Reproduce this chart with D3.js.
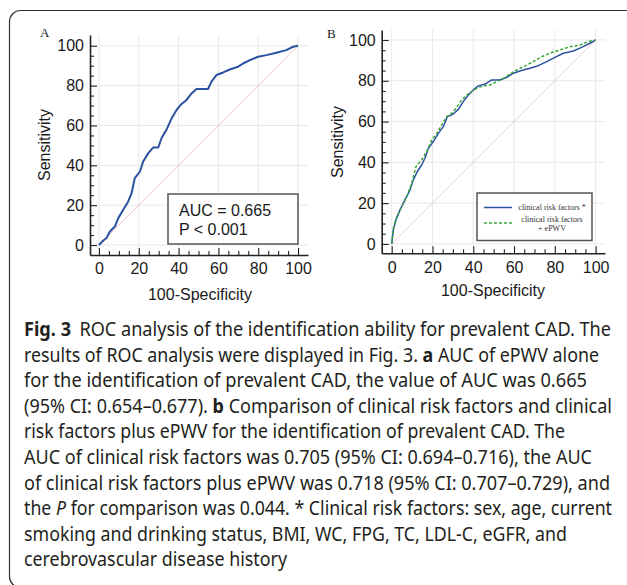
<!DOCTYPE html>
<html>
<head>
<meta charset="utf-8">
<script src="https://cdn.jsdelivr.net/npm/d3@7"></script>
<style>
  body { margin: 0; background: #fff; }
</style>
</head>
<body>
<div id="chart"></div>
<script>
// axis ticks
const majorTicks = [0, 20, 40, 60, 80, 100];
const minorTicks = [5, 10, 15, 25, 30, 35, 45, 50, 55, 65, 70, 75, 85, 90, 95];

// Panel A: ePWV alone
const aFpr = [0, 2.2, 3.8, 5.5, 8, 9.7, 12.2, 14.7, 16.4, 18, 20.6, 22.2, 24.7, 27.3, 29.8, 31.4, 33.9, 36.5, 39, 41.5, 44, 46.5, 49, 54.8, 56.5, 59, 62.4, 65.7, 69.9, 72.4, 75.8, 79.9, 84.1, 89.1, 94.1, 97.5, 100];
const aTpr = [0, 2.3, 3.5, 6.8, 9.3, 13.5, 17.7, 21.9, 26, 33.6, 36.9, 41.9, 46, 49, 49, 53.6, 57.8, 63.6, 67.8, 70.8, 72.8, 76.1, 78.3, 78.3, 82, 85.3, 86.6, 88.1, 89.5, 91.1, 92.8, 94.5, 95.3, 96.5, 97.8, 99.5, 100];
const aucText = ["AUC = 0.665", "P < 0.001"];

// Panel B: clinical risk factors vs clinical risk factors + ePWV
const bClinFpr = [0, 0.8, 2.1, 4.1, 6.5, 9, 10.6, 12.6, 14.7, 16.3, 18, 20.4, 22.9, 25.3, 27.3, 30.2, 32.7, 35.1, 37.6, 40, 42.5, 45.8, 49, 53.1, 56.4, 59.6, 63.7, 67.8, 71.9, 76, 80, 84.2, 89.1, 93.1, 97.2, 100];
const bClinTpr = [0, 6.9, 11.8, 16.7, 21.6, 26.5, 31.4, 35.5, 38.7, 42, 46.9, 50.2, 54.2, 57.5, 62.4, 63.7, 66, 69.8, 73, 75.5, 77.5, 78.4, 80.4, 80.4, 81.7, 83.7, 85, 86.1, 87.4, 89.4, 91.5, 93.5, 94.6, 96.4, 98.4, 100];
const bEpwvFpr = [0, 0.8, 2.5, 4.9, 7.4, 9.8, 11.9, 14.7, 17.2, 19.6, 22.1, 24.5, 27, 29.4, 31.9, 34.3, 36.8, 39.2, 41.7, 44.9, 48.2, 51.5, 54.7, 58, 61.3, 65.4, 69.4, 73.5, 77.6, 82.5, 87.4, 92.3, 96.4, 100];
const bEpwvTpr = [0, 7.7, 13.4, 18.3, 23.2, 29.7, 37.9, 41.2, 45.3, 51, 54.2, 58.3, 62.4, 64, 67, 70.6, 73, 74.7, 76.3, 77.5, 77.9, 79.6, 81.2, 83.3, 85.3, 87.3, 89.4, 91.8, 93.5, 95.1, 96.7, 97.5, 99.2, 100];
const legendLabels = [["clinical risk factors *"], ["clinical risk factors", "+ ePWV"]];

// caption, one entry per printed line: [text, style]
const captionLines = [
  [["Fig. 3", "b"], ["ROC analysis of the identification ability for prevalent CAD. The", "", 9]],
  [["results of ROC analysis were displayed in Fig. 3. "], ["a", "b"], [" AUC of ePWV alone"]],
  [["for the identification of prevalent CAD, the value of AUC was 0.665"]],
  [["(95% CI: 0.654\u20130.677). "], ["b", "b"], [" Comparison of clinical risk factors and clinical"]],
  [["risk factors plus ePWV for the identification of prevalent CAD. The"]],
  [["AUC of clinical risk factors was 0.705 (95% CI: 0.694\u20130.716), the AUC"]],
  [["of clinical risk factors plus ePWV was 0.718 (95% CI: 0.707\u20130.729), and"]],
  [["the "], ["P", "i"], [" for comparison was 0.044. * Clinical risk factors: sex, age, current"]],
  [["smoking and drinking status, BMI, WC, FPG, TC, LDL-C, eGFR, and"]],
  [["cerebrovascular disease history"]]
];
const captionEnds = [611, 599, 587, 612, 565, 592, 610, 612, 567, 287];

const width = 627, height = 585;
const svg = d3.select("#chart").append("svg")
    .attr("width", width)
    .attr("height", height);

// outer rounded frame
svg.append("rect")
    .attr("x", 9.5).attr("y", 10.5)
    .attr("width", 660).attr("height", 577)
    .attr("rx", 11)
    .attr("fill", "none")
    .attr("stroke", "#333")
    .attr("stroke-width", 1.2);

function drawPanel(p) {
    const x = d3.scaleLinear().domain(p.xd).range(p.xr);
    const y = d3.scaleLinear().domain(p.yd).range(p.yr);
    const g = svg.append("g");

    // grid
    g.selectAll(".gx").data(majorTicks).enter().append("line")
        .attr("x1", d => x(d)).attr("x2", d => x(d))
        .attr("y1", p.yr[0]).attr("y2", p.yr[1])
        .attr("stroke", "#e8e8e8");
    g.selectAll(".gy").data(majorTicks).enter().append("line")
        .attr("x1", p.xr[0]).attr("x2", p.xr[1])
        .attr("y1", d => y(d)).attr("y2", d => y(d))
        .attr("stroke", "#e8e8e8");

    // chance line
    g.append("line")
        .attr("x1", x(0)).attr("y1", y(0))
        .attr("x2", x(100)).attr("y2", y(100))
        .attr("stroke", "#ebbcbc")
        .attr("stroke-width", 0.8);

    const line = d3.line().x(d => x(d[0])).y(d => y(d[1]));
    p.curves.forEach(c => {
        g.append("path")
            .datum(d3.zip(c.fpr, c.tpr))
            .attr("d", line)
            .attr("fill", "none")
            .attr("stroke", c.color)
            .attr("stroke-width", c.width)
            .attr("stroke-dasharray", c.dash || null)
            .attr("stroke-linejoin", "round");
    });

    // axes, ticks point inwards
    const xAxis = g.append("g")
        .attr("transform", `translate(0,${p.yr[0]})`)
        .call(d3.axisBottom(x).tickValues(majorTicks).tickSize(-7).tickSizeOuter(0).tickPadding(8));
    g.append("g")
        .attr("transform", `translate(0,${p.yr[0]})`)
        .call(d3.axisBottom(x).tickValues(minorTicks).tickSize(-4).tickSizeOuter(0).tickFormat(""))
        .select(".domain").remove();
    const yAxis = g.append("g")
        .attr("transform", `translate(${p.xr[0]},0)`)
        .call(d3.axisLeft(y).tickValues(majorTicks).tickSize(-7).tickSizeOuter(0).tickPadding(6));
    g.append("g")
        .attr("transform", `translate(${p.xr[0]},0)`)
        .call(d3.axisLeft(y).tickValues(minorTicks).tickSize(-4).tickSizeOuter(0).tickFormat(""))
        .select(".domain").remove();

    g.selectAll(".domain").attr("stroke", "#222").attr("stroke-width", 1.6);
    g.selectAll(".tick line").attr("stroke", "#222").attr("stroke-width", 1.1);
    [xAxis, yAxis].forEach(a => a.selectAll("text")
        .attr("font-family", "'Liberation Sans', Arial, sans-serif")
        .attr("font-size", 16)
        .attr("fill", "#1a1a1a"));

    // titles
    g.append("text")
        .attr("transform", `translate(${p.yTitle[0]},${p.yTitle[1]}) rotate(-90)`)
        .attr("text-anchor", "middle")
        .attr("font-family", "'Liberation Sans', Arial, sans-serif")
        .attr("font-size", 16)
        .attr("fill", "#1a1a1a")
        .text("Sensitivity");
    g.append("text")
        .attr("x", p.xTitle[0]).attr("y", p.xTitle[1])
        .attr("text-anchor", "middle")
        .attr("font-family", "'Liberation Sans', Arial, sans-serif")
        .attr("font-size", 16)
        .attr("fill", "#1a1a1a")
        .text("100-Specificity");
    g.append("text")
        .attr("x", p.tag[1]).attr("y", p.tag[2])
        .attr("font-family", "'Liberation Serif', 'Times New Roman', serif")
        .attr("font-size", 13)
        .attr("fill", "#1a1a1a")
        .text(p.tag[0]);
    return g;
}

// Panel A
const gA = drawPanel({
    xd: [-4.5, 105], xr: [90, 308],
    yd: [-5, 105.4], yr: [255, 35],
    yTitle: [50, 145], xTitle: [200, 300], tag: ["A", 40, 37],
    curves: [{ fpr: aFpr, tpr: aTpr, color: "#2b52a0", width: 2 }]
});
gA.append("rect")
    .attr("x", 168).attr("y", 194)
    .attr("width", 130).attr("height", 50)
    .attr("fill", "#fff")
    .attr("stroke", "#555")
    .attr("stroke-width", 1.5);
gA.selectAll(".auc").data(aucText).enter().append("text")
    .attr("x", 179)
    .attr("y", (d, i) => 216 + i * 19)
    .attr("font-family", "'Liberation Sans', Arial, sans-serif")
    .attr("font-size", 16)
    .attr("fill", "#1a1a1a")
    .text(d => d);

// Panel B
const gB = drawPanel({
    xd: [-4.9, 104.6], xr: [381.7, 605],
    yd: [-4.6, 104.9], yr: [253.3, 30],
    yTitle: [343, 142], xTitle: [493, 296], tag: ["B", 327, 38],
    curves: [
        { fpr: bClinFpr, tpr: bClinTpr, color: "#2b52a0", width: 1.5 },
        { fpr: bEpwvFpr, tpr: bEpwvTpr, color: "#3aa63a", width: 1.5, dash: "3,2" }
    ]
});
gB.append("rect")
    .attr("x", 477).attr("y", 193)
    .attr("width", 115).attr("height", 47.5)
    .attr("fill", "#fff")
    .attr("stroke", "#555")
    .attr("stroke-width", 1.5);
const legendStyles = [{ color: "#2b52a0", dash: null, y: 207.5 }, { color: "#3aa63a", dash: "3,2", y: 223 }];
legendLabels.forEach((lines, i) => {
    gB.append("line")
        .attr("x1", 484).attr("x2", 512)
        .attr("y1", legendStyles[i].y).attr("y2", legendStyles[i].y)
        .attr("stroke", legendStyles[i].color)
        .attr("stroke-width", 1.5)
        .attr("stroke-dasharray", legendStyles[i].dash);
    lines.forEach((t, j) => {
        gB.append("text")
            .attr("x", 552)
            .attr("y", legendStyles[i].y + 2.5 + (lines.length > 1 ? (j - 0.5) * 9 + 1 : 0))
            .attr("text-anchor", "middle")
            .attr("font-family", "'Liberation Serif', 'Times New Roman', serif")
            .attr("font-size", 8)
            .attr("fill", "#333")
            .text(t);
    });
});

// caption
captionLines.forEach((parts, i) => {
    const t = svg.append("text")
        .attr("x", 24)
        .attr("y", 336 + i * 25.6)
        .attr("font-family", "'Noto Sans', 'Open Sans', sans-serif")
        .attr("font-size", 19.5)
        .attr("fill", "#231f20")
        .attr("textLength", captionEnds[i] - 24)
        .attr("lengthAdjust", "spacingAndGlyphs");
    parts.forEach(p => {
        t.append("tspan")
            .attr("font-weight", p[1] === "b" ? "bold" : null)
            .attr("font-style", p[1] === "i" ? "italic" : null)
            .attr("dx", p[2] || null)
            .text(p[0]);
    });
});
</script>
</body>
</html>
